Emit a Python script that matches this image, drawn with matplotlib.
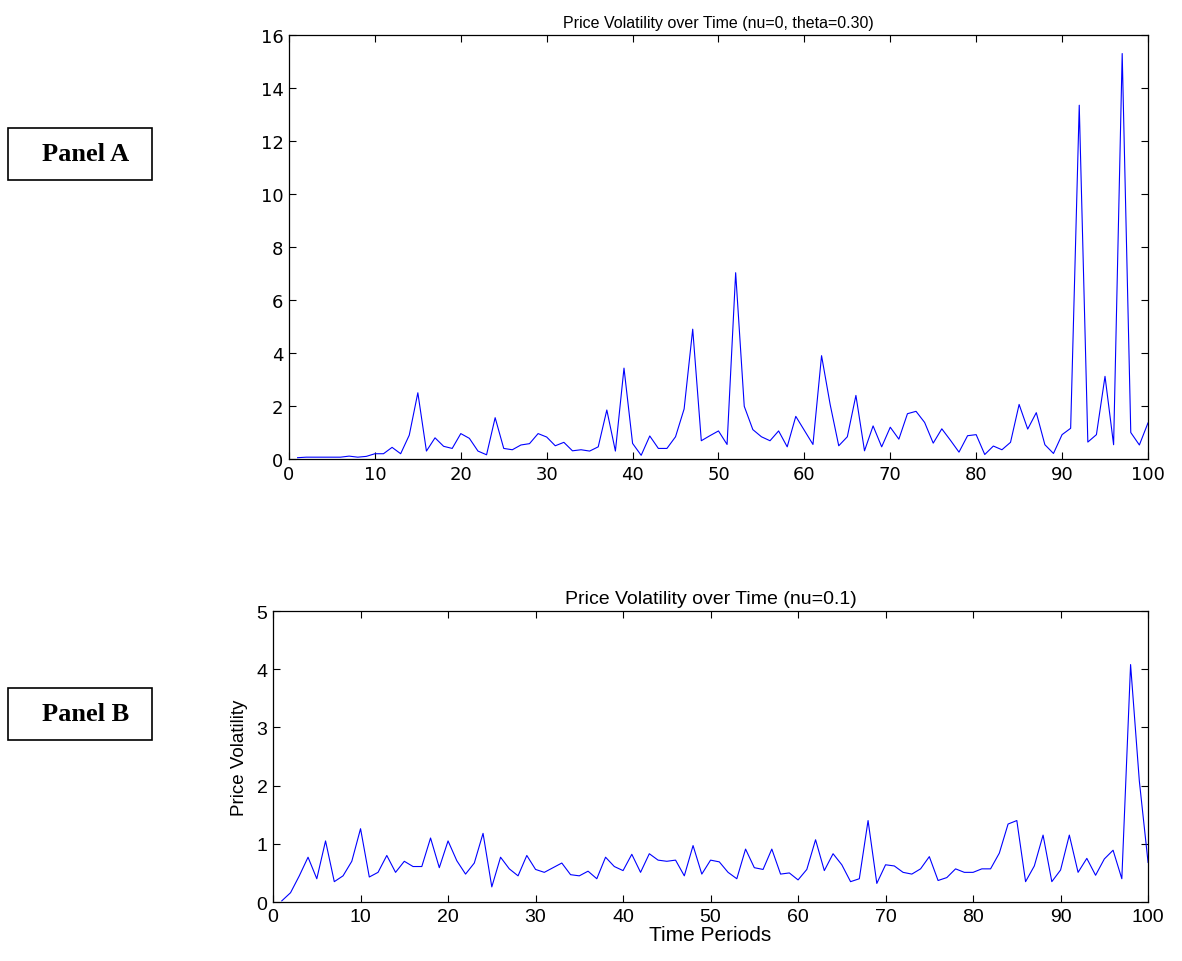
"""
Price volatility over time, two panels (MATLAB-style figure)
"""

import numpy as np
import matplotlib
matplotlib.use("Agg")
import matplotlib.pyplot as plt
from matplotlib.patches import Rectangle

# Panel A data (nu=0, theta=0.30), periods 1..100
periods_a = np.arange(1, 101)
vol_a = [0.05, 0.07, 0.07, 0.07, 0.07, 0.07, 0.11, 0.07, 0.10, 0.20,
         0.20, 0.44, 0.20, 0.90, 2.50, 0.30, 0.80, 0.48, 0.40, 0.96,
         0.78, 0.30, 0.16, 1.56, 0.40, 0.35, 0.53, 0.58, 0.96, 0.83,
         0.50, 0.63, 0.31, 0.35, 0.30, 0.46, 1.85, 0.30, 3.43, 0.59,
         0.14, 0.87, 0.40, 0.40, 0.84, 1.89, 4.90, 0.69, 0.88, 1.06,
         0.55, 7.03, 1.99, 1.11, 0.84, 0.69, 1.06, 0.46, 1.61, 1.08,
         0.55, 3.90, 2.06, 0.50, 0.84, 2.40, 0.31, 1.25, 0.46, 1.20,
         0.75, 1.71, 1.80, 1.38, 0.60, 1.14, 0.71, 0.26, 0.88, 0.92,
         0.17, 0.49, 0.35, 0.63, 2.06, 1.13, 1.75, 0.54, 0.21, 0.92,
         1.16, 13.35, 0.64, 0.92, 3.12, 0.54, 15.30, 1.00, 0.53, 1.36]

# Panel B data (nu=0.1), periods 1..100
periods_b = np.arange(1, 101)
vol_b = [0.02, 0.16, 0.45, 0.77, 0.40, 1.05, 0.35, 0.45, 0.70, 1.26,
         0.43, 0.51, 0.80, 0.51, 0.70, 0.61, 0.61, 1.10, 0.59, 1.05,
         0.71, 0.48, 0.67, 1.18, 0.26, 0.77, 0.57, 0.45, 0.80, 0.56,
         0.51, 0.59, 0.67, 0.47, 0.45, 0.53, 0.40, 0.77, 0.61, 0.54,
         0.82, 0.51, 0.83, 0.72, 0.70, 0.72, 0.45, 0.97, 0.48, 0.72,
         0.69, 0.51, 0.40, 0.91, 0.59, 0.56, 0.91, 0.48, 0.50, 0.38,
         0.56, 1.07, 0.54, 0.83, 0.64, 0.35, 0.40, 1.40, 0.32, 0.64,
         0.62, 0.51, 0.48, 0.57, 0.78, 0.37, 0.42, 0.57, 0.51, 0.51,
         0.57, 0.57, 0.84, 1.34, 1.40, 0.35, 0.62, 1.15, 0.35, 0.55,
         1.15, 0.51, 0.75, 0.46, 0.74, 0.89, 0.40, 4.08, 2.08, 0.68]

xticks = np.arange(0, 101, 10)
yticks_a = np.arange(0, 17, 2)
yticks_b = np.arange(0, 6, 1)

plt.rcParams['font.family'] = ['Liberation Sans', 'DejaVu Sans']

fig = plt.figure(figsize=(11.82, 9.62), dpi=100)

def style(ax, size, family):
    ax.tick_params(direction='in', top=True, right=True, labelsize=size,
                   length=5, width=0.8, pad=4)
    for lab in ax.get_xticklabels() + ax.get_yticklabels():
        lab.set_family(family)
    for s in ax.spines.values():
        s.set_linewidth(0.9)

# Panel A
ax1 = fig.add_axes([0.2445, 0.5218, 0.7267, 0.4408])
ax1.plot(periods_a, vol_a, color=(0, 0, 1), linewidth=0.8)
ax1.set_xlim(0, 100)
ax1.set_ylim(0, 16)
ax1.set_xticks(xticks)
ax1.set_yticks(yticks_a)
ax1.set_title("Price Volatility over Time (nu=0, theta=0.30)", fontsize=11.5, pad=6)
style(ax1, 13, ['DejaVu Sans'])

# Panel B
ax2 = fig.add_axes([0.231, 0.0613, 0.7403, 0.3025])
ax2.plot(periods_b, vol_b, color=(0, 0, 1), linewidth=0.8)
ax2.set_xlim(0, 100)
ax2.set_ylim(0, 5)
ax2.set_xticks(xticks)
ax2.set_yticks(yticks_b)
ax2.set_title("Price Volatility over Time (nu=0.1)", fontsize=14, pad=6)
ax2.set_xlabel("Time Periods", fontsize=15, labelpad=0)
ax2.set_ylabel("Price Volatility", fontsize=13.5, labelpad=6)
style(ax2, 14, ['Liberation Sans'])

# Panel labels in boxes
W, H = 1182, 962
for label, top in [("Panel A", 129), ("Panel B", 689)]:
    x0, y0, w, h = 8 / W, 1 - (top + 52) / H, 144 / W, 52 / H
    fig.patches.append(Rectangle((x0, y0), w, h, transform=fig.transFigure,
                                 fill=False, edgecolor='black', linewidth=1.2))
    fig.text(x0 + w / 2 + 0.005, y0 + h / 2, label, ha='center', va='center',
             fontsize=19, fontweight='bold', family=['Liberation Serif'])

fig.savefig("out.png", dpi=100)
